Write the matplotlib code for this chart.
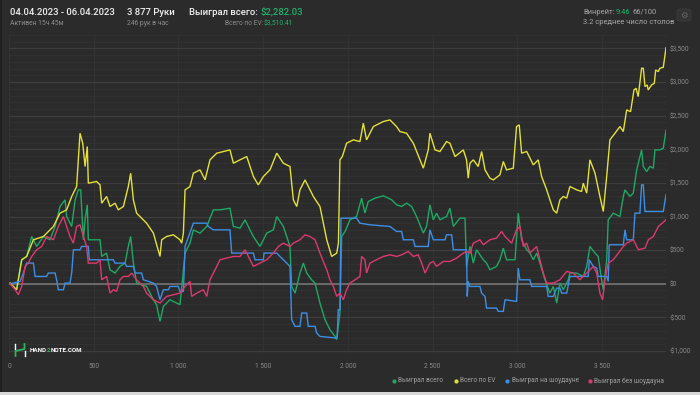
import matplotlib
matplotlib.use("Agg")
import matplotlib.pyplot as plt
from matplotlib.ticker import FuncFormatter, MultipleLocator
from matplotlib.lines import Line2D
from matplotlib.patches import Rectangle, FancyBboxPatch

plt.rcParams['font.family'] = ['Roboto', 'DejaVu Sans']

# ---------------- data (hands, $) ----------------
green_x = [0, 6, 45, 75, 104, 134, 144, 163, 203, 242, 272, 301, 331, 340, 370, 390, 409, 423, 439, 449, 462, 468,
           537, 547, 576, 596, 626, 655, 685, 704, 718, 734, 753, 812, 852, 871, 891, 911, 950, 1009, 1039, 1068,
           1088, 1127, 1167, 1206, 1245, 1304, 1324, 1363, 1393, 1422, 1442, 1481, 1521, 1560, 1580, 1619, 1658,
           1668, 1688, 1717, 1737, 1757, 1786, 1806, 1835, 1865, 1894, 1924, 1933, 1953, 1963, 1983, 2012, 2051,
           2081, 2100, 2120, 2160, 2209, 2258, 2287, 2317, 2346, 2376, 2405, 2445, 2464, 2484, 2504, 2523, 2543,
           2582, 2602, 2622, 2661, 2691, 2700, 2720, 2740, 2759, 2799, 2818, 2838, 2877, 2897, 2917, 2936, 2986,
           3005, 3025, 3055, 3074, 3094, 3114, 3133, 3163, 3192, 3212, 3232, 3251, 3271, 3300, 3310, 3350, 3389,
           3409, 3428, 3458, 3477, 3497, 3507, 3527, 3536, 3566, 3605, 3625, 3635, 3664, 3684, 3704, 3733, 3743,
           3763, 3782, 3802, 3812, 3841, 3861, 3877]
green_y = [0, 10, -89, 357, 406, 703, 654, 555, 703, 654, 852, 1149, 1248, 1000, 852, 1248, 1397, 1397, 654, 951,
           1174, 654, 654, 406, 456, 208, 159, 258, 307, 555, 703, 307, 10, -40, -238, -312, -560, -337, -238,
           -312, 456, 604, 802, 753, 852, 1099, 1099, 1124, 852, 827, 951, 802, 703, 555, 753, 802, 1000, 852,
           555, -40, -139, 159, 307, 159, 59, 10, -287, -535, -684, -783, -832, -436, 703, 777, 951, 1000, 1273,
           1050, 1223, 1273, 1308, 1249, 1174, 1149, 1199, 1149, 1000, 753, 852, 1174, 951, 1050, 951, 1000, 1124,
           852, 976, 976, 258, 555, 307, 505, 357, 307, 208, 258, 357, 530, 357, 357, 1050, 654, 505, 456, 357,
           456, 307, 59, -139, -40, -288, 10, -89, 59, 159, 159, 109, 258, 555, 456, 406, 59, -89, 357, 951, 1050,
           1000, 1298, 1397, 1298, 1348, 1694, 1991, 1744, 1669, 1744, 1719, 1991, 1991, 2016, 2282]

ev_x = [0, 6, 45, 75, 104, 144, 203, 262, 301, 340, 370, 399, 419, 435, 449, 462, 468, 517, 537, 547, 576, 596,
        626, 645, 675, 704, 718, 734, 753, 773, 812, 852, 891, 901, 930, 970, 1009, 1019, 1029, 1039, 1068, 1088,
        1127, 1157, 1186, 1226, 1304, 1324, 1363, 1403, 1442, 1471, 1501, 1540, 1580, 1619, 1658, 1678, 1698,
        1717, 1747, 1776, 1796, 1835, 1875, 1904, 1934, 1944, 1953, 1967, 1992, 2032, 2071, 2091, 2110, 2150,
        2209, 2248, 2287, 2307, 2346, 2386, 2425, 2445, 2474, 2484, 2514, 2543, 2582, 2602, 2632, 2681, 2700,
        2710, 2720, 2740, 2769, 2789, 2809, 2838, 2858, 2897, 2917, 2936, 2976, 2995, 3011, 3025, 3055, 3094,
        3123, 3143, 3173, 3192, 3212, 3232, 3251, 3271, 3291, 3310, 3350, 3379, 3389, 3409, 3428, 3458, 3487,
        3507, 3527, 3546, 3576, 3605, 3625, 3645, 3668, 3688, 3700, 3713, 3733, 3743, 3753, 3766, 3772, 3792,
        3808, 3816, 3831, 3841, 3861, 3877]
ev_y = [0, 10, -89, 357, 406, 654, 703, 852, 1050, 1099, 1298, 1446, 2239, 2090, 1744, 2041, 1496, 1521, 1471,
        1199, 1298, 1149, 1199, 1099, 1149, 1446, 1644, 1248, 1050, 1000, 901, 753, 406, 654, 703, 728, 654, 604,
        753, 1397, 1446, 1644, 1694, 1545, 1843, 1942, 1991, 1793, 1843, 1892, 1595, 1471, 1595, 1694, 1942,
        1793, 1744, 1248, 1149, 1397, 1545, 1397, 1298, 1149, 654, 406, 456, 604, 1843, 1892, 2090, 2140, 2115,
        2388, 2140, 2338, 2413, 2437, 2338, 2264, 2239, 2090, 1843, 1719, 1991, 2239, 1991, 1967, 2115, 2090,
        1892, 1991, 1843, 1570, 1793, 1843, 1744, 1967, 1694, 1570, 1545, 1620, 1818, 1694, 1719, 2338, 2363,
        1942, 1967, 1768, 1843, 1595, 1397, 1248, 1099, 1050, 1248, 1298, 1273, 1446, 1397, 1372, 1496, 1348,
        1843, 1645, 1298, 1075, 1595, 2140, 2239, 2338, 2264, 2586, 2560, 2883, 2908, 2784, 3205, 3205, 2933,
        2957, 2883, 2957, 2982, 3180, 3156, 3205, 3220, 3510]

sd_x = [0, 6, 65, 85, 104, 144, 154, 222, 232, 272, 281, 291, 321, 331, 360, 370, 380, 419, 429, 468, 474, 616,
        626, 685, 694, 734, 744, 783, 793, 852, 871, 891, 911, 940, 950, 999, 1009, 1029, 1039, 1088, 1167, 1176,
        1206, 1304, 1314, 1442, 1452, 1501, 1505, 1580, 1599, 1639, 1658, 1668, 1688, 1717, 1727, 1757, 1766,
        1806, 1816, 1835, 1934, 1937, 1943, 1953, 1959, 2051, 2071, 2130, 2248, 2287, 2317, 2327, 2386, 2396,
        2474, 2484, 2504, 2573, 2582, 2612, 2622, 2700, 2704, 2710, 2720, 2779, 2789, 2809, 2818, 2877, 2887,
        2917, 2927, 2995, 3005, 3015, 3074, 3084, 3173, 3182, 3212, 3232, 3251, 3261, 3291, 3310, 3418, 3424,
        3448, 3468, 3477, 3527, 3536, 3542, 3625, 3635, 3645, 3684, 3694, 3723, 3733, 3743, 3753, 3861, 3877]
sd_y = [0, 0, 35, 159, 307, 307, 109, 109, 159, 159, 59, -89, -89, 10, 10, 159, 505, 505, 555, 555, 357, 357,
        307, 307, 258, 258, 159, 159, 59, 10, -40, -238, -89, -89, -40, -40, -114, -114, 555, 901, 901, 852,
        802, 802, 456, 456, 357, 357, 456, 456, 406, 307, 258, -535, -634, -634, -436, -436, -634, -634, -733,
        -783, -808, -782, -387, -387, 976, 976, 901, 877, 852, 778, 778, 654, 654, 555, 555, 803, 654, 654, 728,
        728, 505, 505, -188, 35, -40, -40, -139, -188, -362, -362, -411, -411, -238, -263, 233, 59, 59, -40, -40,
        -188, -188, -65, -65, -139, -139, 109, 109, 357, 258, 233, 109, 109, 35, 580, 580, 803, 654, 654, 1050,
        1050, 1471, 1471, 1075, 1075, 1323]

nsd_x = [0, 6, 36, 55, 75, 95, 114, 134, 163, 193, 222, 262, 291, 321, 340, 360, 380, 399, 419, 439, 458, 468,
         517, 537, 547, 576, 596, 616, 635, 655, 675, 704, 724, 753, 793, 812, 852, 891, 930, 1009, 1039, 1068,
         1078, 1108, 1147, 1167, 1186, 1226, 1245, 1324, 1363, 1393, 1422, 1442, 1481, 1521, 1560, 1590, 1619,
         1658, 1678, 1717, 1747, 1776, 1806, 1835, 1875, 1894, 1914, 1934, 1953, 1973, 1992, 2012, 2042, 2071,
         2081, 2100, 2110, 2130, 2169, 2209, 2248, 2287, 2317, 2356, 2386, 2415, 2435, 2455, 2484, 2504, 2523,
         2563, 2602, 2641, 2681, 2700, 2720, 2740, 2779, 2799, 2838, 2877, 2907, 2927, 2966, 2995, 3015, 3035,
         3055, 3074, 3114, 3133, 3153, 3173, 3212, 3251, 3291, 3330, 3369, 3409, 3448, 3468, 3487, 3503, 3517,
         3536, 3566, 3596, 3625, 3645, 3684, 3714, 3753, 3773, 3802, 3832, 3877]
nsd_y = [0, 0, -89, -163, -40, 258, 307, 406, 505, 555, 703, 654, 852, 1000, 852, 703, 604, 852, 877, 703, 555,
         307, 307, 357, 59, 109, -139, -89, -114, 59, 109, 109, 159, 59, -40, -139, -238, -287, -188, -139, -40,
         35, -188, -139, -89, -188, 59, 258, 357, 406, 406, 505, 357, 258, 307, 357, 456, 555, 604, 555, 604,
         654, 728, 703, 654, 456, 208, 59, -40, -188, -139, -238, -89, 10, 59, 109, 406, 357, 159, 307, 357, 406,
         431, 406, 431, 480, 406, 431, 307, 159, 307, 332, 258, 332, 332, 381, 456, 480, 456, 604, 654, 580, 654,
         679, 778, 703, 604, 803, 852, 555, 604, 456, 555, 357, 159, 10, 10, 59, 183, 159, 59, 159, 258, 159,
         -139, -238, 59, 307, 357, 456, 555, 604, 654, 505, 530, 654, 703, 852, 951]

series_labels = ["Выиграл всего", "Всего по EV", "Выиграл на шоудауне", "Выиграл без шоудауна"]
series_colors = ["#1fa866", "#e4e03a", "#3d8ee6", "#dc3a6e"]

x_ticks = [0, 500, 1000, 1500, 2000, 2500, 3000, 3500]
y_ticks = [-1000, -500, 0, 500, 1000, 1500, 2000, 2500, 3000, 3500]

# ---------------- figure ----------------
W, H = 700, 395
BG = "#2b2b2b"
fig = plt.figure(figsize=(W / 100, H / 100), dpi=100, facecolor=BG)
r = fig.canvas.get_renderer()

def fx(px):
    return px / W

def fy(py):
    return 1 - py / H

ax_left, ax_right, ax_top, ax_bot = 9, 666, 35, 353
ax = fig.add_axes([fx(ax_left), fy(ax_bot), (ax_right - ax_left) / W, (ax_bot - ax_top) / H])
ax.set_facecolor(BG)
ax.set_xlim(0, 3877)
ax.set_ylim(-1030, 3700)

ax.yaxis.set_major_locator(MultipleLocator(500))
ax.yaxis.set_minor_locator(MultipleLocator(100))
ax.set_xticks(x_ticks)
ax.set_yticks(y_ticks)
ax.grid(which='major', axis='y', color='#3d3d3d', lw=0.9)
ax.grid(which='minor', axis='y', color='#333333', lw=0.6)
ax.grid(which='major', axis='x', color='#343434', lw=0.6)
ax.set_axisbelow(True)
for s in ax.spines.values():
    s.set_visible(False)
ax.axhline(0, color='#6e6e6e', lw=1.3, zorder=1)

ax.yaxis.tick_right()
ax.tick_params(axis='both', which='both', length=0, labelsize=4.7, labelcolor='#8a8a8a')
ax.tick_params(axis='y', pad=3)
ax.tick_params(axis='x', pad=7)
ax.xaxis.set_major_formatter(FuncFormatter(lambda v, p: f"{int(v):,}".replace(",", " ")))
ax.yaxis.set_major_formatter(FuncFormatter(lambda v, p: ("-$" if v < 0 else "$") + f"{abs(int(v)):,}"))

xs = [green_x, ev_x, sd_x, nsd_x]
ys = [green_y, ev_y, sd_y, nsd_y]
for i in [3, 2, 0, 1]:
    ax.plot(xs[i], ys[i], color=series_colors[i], lw=1.0, zorder=3 + i, solid_joinstyle='miter')

# ---------------- header ----------------
white = "#f0f0f0"
gray = "#8c8c8c"
lgray = "#a8a8a8"
green = "#1fb36b"
big = 6.8
small = 4.9

def seq(x0, py, parts, size, weight='normal', gap=0.0):
    x = x0
    for txt, col in parts:
        t = fig.text(fx(x), fy(py), txt, color=col, fontsize=size, va='center', weight=weight)
        x = t.get_window_extent(r).x1 + gap
    return x

fig.text(fx(10), fy(12.5), "04.04.2023 - 06.04.2023", color=white, fontsize=big, va='center', weight='medium')
fig.text(fx(10), fy(23.5), "Активен 15ч 45м", color=gray, fontsize=small, va='center')
fig.text(fx(127), fy(12.5), "3 877 Руки", color=white, fontsize=big, va='center', weight='medium')
fig.text(fx(127), fy(23.5), "246 рук в час", color=gray, fontsize=small, va='center')
seq(189, 12.5, [("Выиграл всего:", white), ("$2,282.03", green)], big, weight='medium', gap=2.5)
fig.text(fx(263), fy(23.5), "Всего по EV:", color=gray, fontsize=small, va='center', ha='right')
fig.text(fx(264), fy(23.5), "$3,510.41", color=green, fontsize=small, va='center')
seq(583, 12, [("Винрейт:", lgray), ("9.46", green), ("66/100", lgray)], 5.4, gap=1.5)
fig.text(fx(583), fy(22.5), "3.2 среднее число столов", color=lgray, fontsize=5.4, va='center')

# settings button
btn = FancyBboxPatch((fx(677), fy(21)), fx(14), 12 / H, boxstyle="round,pad=0,rounding_size=0.004",
                     transform=fig.transFigure, facecolor="#333333", edgecolor="#3c3c3c", lw=0.6)
fig.add_artist(btn)
fig.text(fx(684), fy(15), "\u2699", color="#6a6a6a", fontsize=6, ha='center', va='center',
         family=['DejaVu Sans'])

# ---------------- legend ----------------
leg_dot_x = [394, 456, 507, 590]
for i, lab in enumerate(series_labels):
    fig.add_artist(Line2D([fx(leg_dot_x[i])], [fy(381)], marker='o', markersize=2.0, color=series_colors[i],
                          lw=0, transform=fig.transFigure))
    fig.text(fx(leg_dot_x[i] + 4.5), fy(381), lab, color="#a0a0a0", fontsize=4.7, va='center')

# ---------------- logo ----------------
fig.add_artist(Line2D([fx(15.5), fx(15.5)], [fy(344), fy(349)], color='white', lw=1.0, transform=fig.transFigure))
fig.add_artist(Line2D([fx(24.5), fx(24.5)], [fy(351), fy(356)], color='white', lw=1.0, transform=fig.transFigure))
fig.add_artist(Line2D([fx(15.5), fx(15.5), fx(24.5), fx(24.5)], [fy(356), fy(351), fy(349), fy(344)],
                      color='#2fb25a', lw=1.3, transform=fig.transFigure))
seq(30, 350, [("HAND", 'white'), ("2", '#2fb25a'), ("NOTE.COM", 'white')], 4.5, weight='bold')

# frame accents
fig.add_artist(Rectangle((0, 0), 1, 3 / H, transform=fig.transFigure, facecolor='#d8d8d8', lw=0))
fig.add_artist(Rectangle((0, 3 / H), 2 / W, 1, transform=fig.transFigure, facecolor='#202020', lw=0))

fig.savefig("out.png", dpi=100, facecolor=BG)
